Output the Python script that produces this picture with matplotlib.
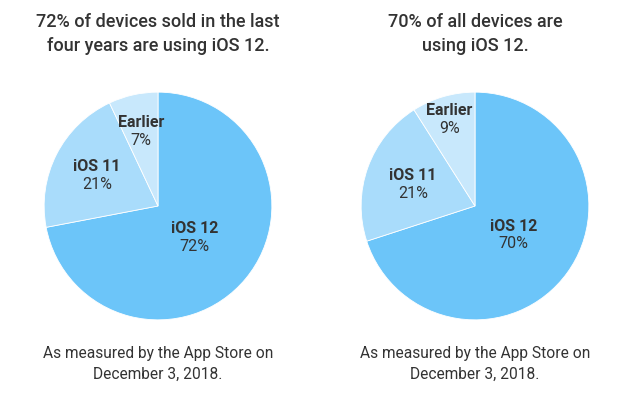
import numpy as np
import matplotlib
matplotlib.use("Agg")
import matplotlib.pyplot as plt

plt.rcParams['font.family'] = ['Roboto', 'DejaVu Sans']

# Data
versions = ["iOS 12", "iOS 11", "Earlier"]
recent_share = [72, 21, 7]
all_share = [70, 21, 9]
titles = ["72% of devices sold in the last\nfour years are using iOS 12.",
          "70% of all devices are\nusing iOS 12."]
footnote = "As measured by the App Store on\nDecember 3, 2018."

colors = ["#6cc5f9", "#a9dcfb", "#c8e8fc"]
text_color = "#333333"
# how far out from the centre each label sits (fraction of radius)
label_r = [[0.42, 0.60, 0.68], [0.42, 0.58, 0.80]]

fig = plt.figure(figsize=(6.3, 3.96), dpi=100)

centers = [158, 475]
for cx, shares, title, radii in zip(centers, [recent_share, all_share], titles, label_r):
    ax = fig.add_axes([(cx - 115) / 630, 75 / 396, 230 / 630, 230 / 396])
    wedges, _ = ax.pie(shares, colors=colors, startangle=90, counterclock=False,
                       radius=1, wedgeprops=dict(edgecolor="white", linewidth=0.6))
    ax.set_xlim(-1.01, 1.01)
    ax.set_ylim(-1.01, 1.01)
    ax.set_aspect("equal")
    ax.axis("off")

    for w, name, val, r in zip(wedges, versions, shares, radii):
        ang = np.deg2rad((w.theta1 + w.theta2) / 2)
        x, y = r * np.cos(ang), r * np.sin(ang)
        ax.text(x, y + 0.005, name, ha="center", va="bottom", fontsize=11.5,
                fontweight="bold", color=text_color)
        ax.text(x, y - 0.02, f"{val}%", ha="center", va="top", fontsize=11.5,
                color=text_color)

    fig.text(cx / 630, 1 - 34 / 396, title, ha="center", va="center",
             fontsize=13, fontweight="medium", color=text_color, linespacing=1.4)
    fig.text(cx / 630, 1 - 364 / 396, footnote, ha="center", va="center",
             fontsize=11.2, color=text_color, linespacing=1.45)

fig.savefig("out.png", dpi=100, facecolor="white")
